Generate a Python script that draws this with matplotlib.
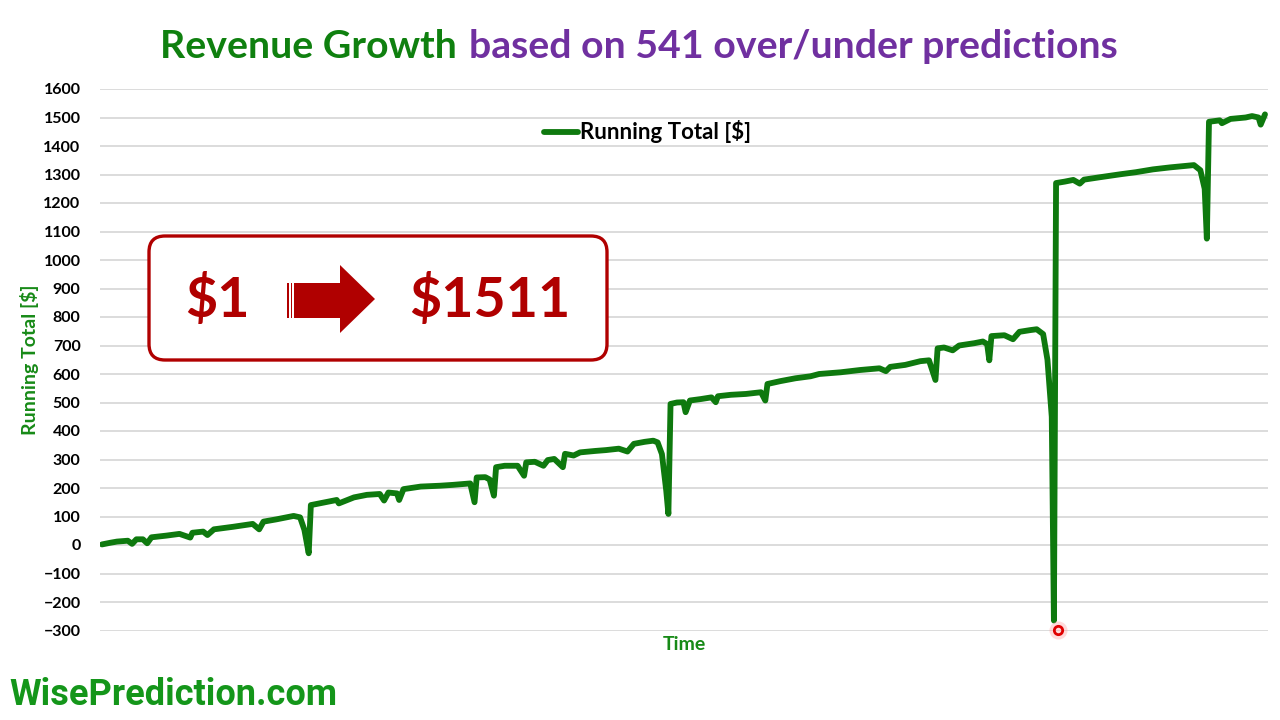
import matplotlib
matplotlib.use("Agg")
import matplotlib.pyplot as plt
from matplotlib.patches import FancyBboxPatch, Polygon, Rectangle

# ---------------- data ----------------
trade_index = [0, 4, 7, 12, 14, 16, 19, 21, 23, 30, 36, 41, 42, 47, 49, 52, 61, 70, 73, 75,
               81, 89, 92, 94, 96, 97, 101, 109, 110, 117, 123, 129, 131, 133, 137, 138, 140,
               148, 157, 163, 168, 171, 173, 174, 178, 180, 182, 183, 187, 193, 196, 197, 201,
               205, 207, 210, 214, 215, 219, 222, 229, 234, 240, 244, 247, 252, 256, 258, 260,
               262, 263, 264, 267, 270, 271, 273, 278, 283, 285, 286, 292, 299, 306, 308, 309,
               315, 322, 329, 333, 343, 352, 361, 364, 366, 373, 380, 384, 387, 388, 391, 395,
               398, 405, 409, 411, 412, 413, 419, 423, 426, 431, 434, 437, 439, 441, 442, 443,
               447, 451, 454, 456, 463, 473, 480, 488, 496, 503, 507, 510, 512, 513, 514, 519,
               520, 524, 531, 534, 537, 538, 540]
running_total = [2, 8, 12, 15, 4, 20, 20, 6, 27, 33, 39, 26, 43, 47, 35, 55, 64, 74, 55, 82,
                 90, 102, 97, 53, -29, 140, 146, 158, 146, 167, 176, 179, 156, 184, 181, 158, 196,
                 205, 208, 211, 214, 216, 150, 237, 238, 230, 173, 273, 278, 278, 243, 290, 292,
                 278, 298, 302, 273, 320, 314, 325, 330, 333, 338, 328, 355, 362, 366, 360, 319,
                 191, 109, 495, 500, 501, 466, 507, 512, 518, 501, 522, 527, 530, 536, 507, 565,
                 575, 585, 592, 600, 606, 614, 620, 610, 625, 632, 645, 648, 579, 690, 693, 683,
                 700, 708, 714, 705, 648, 733, 736, 722, 748, 754, 757, 740, 650, 450, -265, 1270,
                 1275, 1281, 1268, 1282, 1290, 1301, 1308, 1318, 1325, 1330, 1333, 1315, 1250, 1075, 1485, 1490,
                 1480, 1495, 1500, 1505, 1500, 1475, 1511]
y_ticks = list(range(-300, 1700, 100))
series_label = "Running Total [$]"
title_main = "Revenue Growth"
title_sub = "based on 541 over/under predictions"
start_amount = "$1"
end_amount = "$1511"
site_name = "WisePrediction.com"
x_label = "Time"

# ---------------- styling ----------------
plt.rcParams["font.family"] = ["Lato", "DejaVu Sans"]
LINE_GREEN = "#0e790e"
LABEL_GREEN = "#178a17"
TITLE_GREEN = "#0f800f"
PURPLE = "#7030a0"
DARK_RED = "#b00000"

W, H = 1280, 720
fig = plt.figure(figsize=(12.8, 7.2), dpi=100)
fig.patch.set_facecolor("white")

# main chart axes, placed in pixel geometry of the reference
left, right, top, bottom = 100, 1268, 89, 630.5
ax = fig.add_axes([left / W, 1 - bottom / H, (right - left) / W, (bottom - top) / H])
ax.plot(trade_index, running_total, color=LINE_GREEN, lw=4.2,
        solid_joinstyle="round", solid_capstyle="round", label=series_label, zorder=3)
ax.set_xlim(-0.9, 541.4)
ax.set_ylim(-300, 1600)
ax.set_yticks(y_ticks)
ax.set_xticks([])
ax.grid(axis="y", color="#d9d9d9", lw=1.3)
ax.set_axisbelow(True)
for s in ax.spines.values():
    s.set_visible(False)
ax.tick_params(axis="y", length=0, pad=14, labelsize=11.5)
for t in ax.get_yticklabels():
    t.set_fontweight("bold")
ax.set_xlabel(x_label, fontsize=14, fontweight="bold", color=LABEL_GREEN, labelpad=4)
ax.set_ylabel(series_label, fontsize=14, fontweight="bold", color=LABEL_GREEN)
ax.yaxis.set_label_coords(-0.052, 0.5)

leg = ax.legend(loc="center", bbox_to_anchor=(0.469, 0.9206), frameon=False,
                handlelength=1.5, handletextpad=0.1, prop={"weight": "bold", "size": 16})

# low-point highlight (red ring)
ax.plot([444], [-298], marker="o", ms=13, color="#ff9a9a", alpha=0.35, mec="none", clip_on=False, zorder=4)
ax.plot([444], [-298], marker="o", ms=6, mfc="none", mec="#e00000", mew=2, clip_on=False, zorder=5)

# overlay axes in pixel coordinates for annotations
ov = fig.add_axes([0, 0, 1, 1])
ov.set_xlim(0, W)
ov.set_ylim(H, 0)
ov.axis("off")
ov.patch.set_alpha(0)

# title in two colours
fig.canvas.draw()
r = fig.canvas.get_renderer()
t1 = ov.text(160, 46, title_main, color=TITLE_GREEN, fontsize=28.3, fontweight="bold",
             ha="left", va="center")
bb = t1.get_window_extent(renderer=r)
x_after = bb.x1 + 12
ov.text(x_after, 46, title_sub, color=PURPLE, fontsize=28.3, fontweight="bold",
        ha="left", va="center")

# box with $1 -> $1511
box = FancyBboxPatch((149, 236), 458, 124, boxstyle="round,pad=0,rounding_size=16",
                     fc="white", ec=DARK_RED, lw=2.4, zorder=5)
ov.add_patch(box)
ov.text(217, 300, start_amount, color=DARK_RED, fontsize=40, fontweight="bold",
        ha="center", va="center", zorder=6)
ov.text(490, 300, end_amount, color=DARK_RED, fontsize=40, fontweight="bold",
        ha="center", va="center", zorder=6)
ov.add_patch(Rectangle((287, 283), 1.6, 35, color=DARK_RED, lw=0, zorder=6))
ov.add_patch(Rectangle((290.5, 283), 1.6, 35, color=DARK_RED, lw=0, zorder=6))
ov.add_patch(Polygon([(294, 283), (340, 283), (340, 265), (375, 299), (340, 333),
                      (340, 318), (294, 318)], closed=True, color=DARK_RED, lw=0, zorder=6))

# watermark
ov.text(9, 695, site_name, color="#14961a", fontsize=26, fontweight="bold",
        family=["Roboto", "DejaVu Sans"], ha="left", va="center")

fig.savefig("out.png", dpi=100, facecolor="white")
